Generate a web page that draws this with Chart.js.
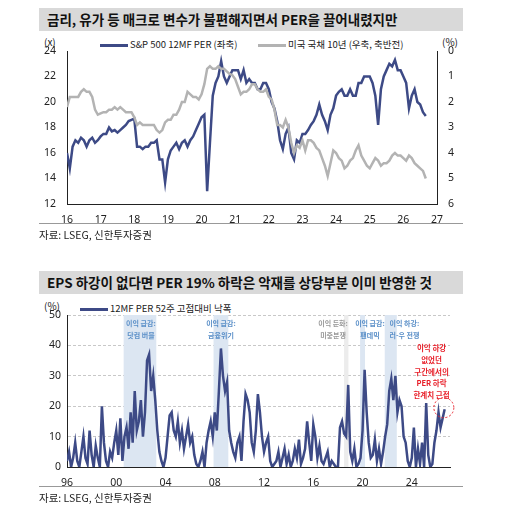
<!DOCTYPE html>
<html><head><meta charset="utf-8">
<script src="https://cdn.jsdelivr.net/npm/chart.js@4/dist/chart.umd.min.js"></script>
<style>
body{margin:0;background:#fff;font-family:"Noto Sans CJK KR","Noto Sans",sans-serif;width:515px;height:508px;position:relative;overflow:hidden}
.t{position:absolute;left:39px;width:424px;height:23px;background:#d9d9d9;font-weight:bold;font-size:13.5px;line-height:23px;padding-left:8px;box-sizing:border-box;color:#111}
.a{position:absolute;font-size:10px;color:#222}
.hl{position:absolute;left:39px;width:424px;border-top:1px solid #999}
.lg{position:absolute;font-size:9.5px;color:#222;white-space:nowrap}
.sw{display:inline-block;width:28px;height:3px;vertical-align:middle;margin-right:2px}
canvas{position:absolute}
</style></head><body>
<div class="t" style="top:8px">금리, 유가 등 매크로 변수가 불편해지면서 PER을 끌어내렸지만</div>
<div class="a" style="left:44px;top:34px">(x)</div>
<div class="a" style="left:442px;top:34px">(%)</div>
<div class="lg" style="left:100px;top:37px"><span class="sw" style="background:#3d4a86"></span>S&amp;P 500 12MF PER (좌축)</div>
<div class="lg" style="left:258px;top:37px"><span class="sw" style="background:#b3b3b3"></span>미국 국채 10년 (우축, 축반전)</div>
<div style="position:absolute;left:39px;top:30px;width:424px;height:195px"><canvas id="c1"></canvas></div>
<div class="hl" style="top:223px"></div>
<div class="a" style="left:39px;top:227px;font-size:10.5px">자료: LSEG, 신한투자증권</div>

<div class="t" style="top:271px">EPS 하강이 없다면 PER 19% 하락은 악재를 상당부분 이미 반영한 것</div>
<div class="a" style="left:44px;top:298px">(%)</div>
<div class="lg" style="left:80px;top:301px"><span class="sw" style="background:#3d4a86"></span>12MF PER 52주 고점대비 낙폭</div>
<div style="position:absolute;left:39px;top:293px;width:424px;height:194px"><canvas id="c2"></canvas></div>
<div class="hl" style="top:486px"></div>
<div class="a" style="left:39px;top:490px;font-size:10.5px">자료: LSEG, 신한투자증권</div>
<script>
// Chart 1: monthly from Jan 2016
const start1 = 2016;
const per = [16,14.8,16.5,17,16.8,17.2,17,16.5,17,17.2,16.8,17,
17.3,17.5,17.5,18,17.7,17.8,17.6,17.8,18,18.2,18.5,18.6,
18.7,16.5,16.5,16.3,16.5,16.5,16.8,16.8,17,15.5,15.5,13.7,
15.5,16.2,16.5,16.8,16.3,16.8,17,16.5,17,17.3,17.8,18.3,
18.8,19,13,16.8,20.5,21.5,22,23.2,22,21.5,22,22.5,
22.5,22.5,21.8,22.5,21.5,21.8,21.5,21.5,21,21,21.5,21.5,
21,20,19.5,18.5,17,16.3,17.5,18,16,15.5,17,16.8,
17.5,17.5,17.8,18.2,18.5,19,19.8,19,18.5,17.8,19,19.5,
20.5,20.8,21,20.5,20.5,21,20.5,20.5,21.5,21.5,22,22,
22,21.5,20.5,18.2,21,22,22.5,23,22.8,23.3,22.5,22.5,
22,21.5,19.5,20.5,21,20,19.8,19.2,18.9];
const ust10 = [2.2,1.8,1.8,1.8,1.8,1.6,1.5,1.6,1.6,1.8,2.3,2.5,
2.45,2.4,2.4,2.3,2.3,2.2,2.3,2.2,2.3,2.4,2.4,2.4,
2.6,2.9,2.8,2.9,2.9,2.9,2.9,2.9,3.1,3.2,3.1,2.8,
2.7,2.7,2.5,2.5,2.3,2.0,2.0,1.6,1.7,1.8,1.8,1.9,
1.7,1.3,0.7,0.6,0.7,0.7,0.6,0.7,0.7,0.8,0.9,0.95,
1.1,1.4,1.7,1.6,1.6,1.5,1.3,1.3,1.5,1.6,1.6,1.5,
1.8,1.9,2.3,2.9,2.9,3.0,2.7,3.0,3.6,4.0,3.7,3.8,
3.5,3.9,3.5,3.5,3.6,3.8,3.9,4.2,4.5,4.9,4.4,3.9,
4.0,4.2,4.3,4.6,4.5,4.3,4.2,3.9,3.7,4.1,4.3,4.5,
4.6,4.4,4.2,4.3,4.5,4.4,4.4,4.3,4.1,4.0,4.1,4.1,
4.2,4.3,4.1,4.2,4.4,4.5,4.6,4.7,5.0];
// Chart 2: bi-monthly from 1996
const start2 = 1996;
const drawdown = [2,5,0,3,8,2, 0,5,10,3,1,12, 4,0,7,3,0,20, 8,2,0,5,3,8, 12,4,16,2,10,13,
6,18,8,25,12,15, 22,10,18,35,37,25, 30,22,12,5,2,0, 3,10,17,18,12,10, 15,8,12,6,10,14,
8,10,4,1,0,2, 5,0,8,12,15,10, 18,12,25,39,30,25, 28,12,8,5,3,8, 10,2,15,24,22,18,
8,5,12,24,18,10, 5,8,10,2,0,1, 2,5,0,3,6,1, 4,0,2,6,3,9, 1,3,6,15,8,2,
14,10,3,7,2,1, 3,5,0,2,1,0, 0,13,15,11,10,27, 5,2,6,0,1,3, 12,32,18,8,3,4,
9,2,6,1,5,10, 14,25,29,22,30,18, 22,20,10,8,2,0, 3,13,0,6,1,8, 0,21,4,0,1,8,
12,18,13,16,19];
const bands = [[2000.6,2003.25,'#dce6f2'],[2007.9,2009.1,'#dce6f2'],[2018.5,2018.85,'#ececec'],[2019.8,2020.2,'#dce6f2'],[2021.8,2022.78,'#dce6f2']];
const notes = [[2002.0,'이익 급감:','닷컴 버블','#5a8fc8'],[2008.5,'이익 급감:','금융위기','#5a8fc8'],[2017.6,'이익 둔화:','미중분쟁','#999'],[2020.6,'이익 급감:','팬데믹','#5a8fc8'],[2023.4,'이익 하강:','러-우 전쟁','#5a8fc8']];

const F = {family:'"Noto Sans","Noto Sans CJK KR",sans-serif',size:10.5};
const pts = (arr,s,step)=>arr.map((v,i)=>({x:s+i/step,y:v}));
const fitW = w => s => { s.width = w; };
const fitH = h => s => { s.height = h; };

new Chart(document.getElementById('c1'),{
 type:'line',
 data:{datasets:[
  {data:pts(ust10,start1,12),yAxisID:'y2',borderColor:'#b3b3b3',borderWidth:2.5,pointRadius:0,tension:0},
  {data:pts(per,start1,12),yAxisID:'y',borderColor:'#3d4a86',borderWidth:2.5,pointRadius:0,tension:0}
 ]},
 options:{animation:false,responsive:true,maintainAspectRatio:false,
  layout:{padding:{top:21,right:0}},
  plugins:{legend:{display:false},tooltip:{enabled:false}},
  scales:{
   x:{type:'linear',min:2016,max:2027,afterFit:fitH(21),grid:{display:false,drawTicks:true},border:{color:'#222'},
      ticks:{stepSize:1,color:'#222',font:F,padding:2,callback:v=>String(v).slice(2)}},
   y:{min:12,max:24,afterFit:fitW(28),grid:{display:false},border:{color:'#222'},ticks:{stepSize:2,color:'#222',font:F,padding:3}},
   y2:{position:'right',reverse:true,min:0,max:6,afterFit:fitW(26),grid:{display:false},border:{color:'#222'},ticks:{stepSize:1,color:'#222',font:F,padding:3}}
  }}
});

const deco = {id:'deco',
 beforeDatasetsDraw(c){const {ctx,chartArea:a,scales:{x,y}}=c;ctx.save();
  bands.forEach(b=>{ctx.fillStyle=b[2];const x0=x.getPixelForValue(b[0]),x1=x.getPixelForValue(b[1]);ctx.fillRect(x0,a.top,x1-x0,a.bottom-a.top);});
  ctx.restore();},
 afterDatasetsDraw(c){const {ctx,scales:{x,y}}=c;ctx.save();
  ctx.font='bold 7px "Noto Sans CJK KR"';ctx.textAlign='center';
  notes.forEach(n=>{ctx.fillStyle=n[3];const px=x.getPixelForValue(n[0]);ctx.fillText(n[1],px,y.getPixelForValue(46.5));ctx.fillText(n[2],px,y.getPixelForValue(42.5));});
  ctx.fillStyle='#e8202a';ctx.font='bold 7.5px "Noto Sans CJK KR"';
  ['이익 하강','없었던','구간에서의','PER 하락','한계치 근접'].forEach((t,i)=>ctx.fillText(t,x.getPixelForValue(2025.6),y.getPixelForValue(38-i*3.8)));
  ctx.strokeStyle='#e8202a';ctx.setLineDash([2,2]);ctx.lineWidth=1;ctx.beginPath();
  ctx.arc(x.getPixelForValue(2026.6),y.getPixelForValue(19.5),10,0,Math.PI*2);ctx.stroke();
  ctx.restore();}
};
new Chart(document.getElementById('c2'),{
 type:'line',
 data:{datasets:[{data:pts(drawdown,start2,6),borderColor:'#3d4a86',borderWidth:2.5,pointRadius:0,tension:0}]},
 options:{animation:false,responsive:true,maintainAspectRatio:false,
  layout:{padding:{top:22,right:13}},
  plugins:{legend:{display:false},tooltip:{enabled:false}},
  scales:{
   x:{type:'linear',min:1996,max:2027.1,afterFit:fitH(20),afterBuildTicks:s=>{s.ticks=[];for(let v=1996;v<=2024;v+=4)s.ticks.push({value:v});},
      grid:{display:false},border:{color:'#222'},ticks:{color:'#222',font:F,padding:2,callback:v=>String(v).slice(2)}},
   y:{min:0,max:50,afterFit:fitW(28),grid:{color:'#c8c8c8',drawTicks:false},border:{color:'#222',dash:[3,2]},
      ticks:{stepSize:10,color:'#222',font:F,padding:6}}
  }},
 plugins:[deco]
});
</script></body></html>
